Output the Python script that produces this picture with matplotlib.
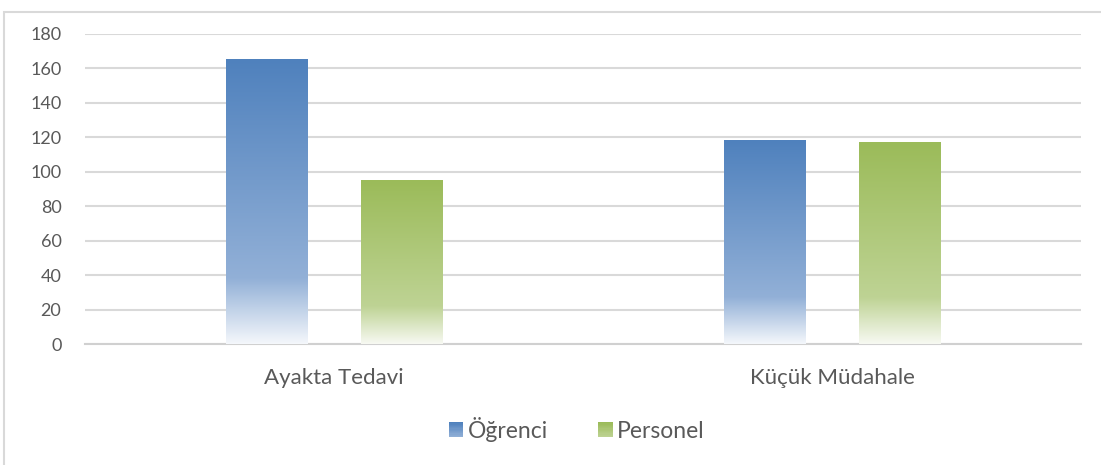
import matplotlib
matplotlib.use('Agg')
import matplotlib.pyplot as plt
import numpy as np
from matplotlib.colors import LinearSegmentedColormap
from matplotlib.legend_handler import HandlerBase
from matplotlib.patches import Rectangle

categories = ['Ayakta Tedavi', 'Küçük Müdahale']
series_names = ['Öğrenci', 'Personel']
ogrenci = [165, 118]
personel = [95, 117]
yticks = [0, 20, 40, 60, 80, 100, 120, 140, 160, 180]

text_color = '#595959'
grid_color = '#D9D9D9'

# top colour -> lighter mid -> almost white at the bottom (Excel style gradient)
blue_cmap = LinearSegmentedColormap.from_list(
    'blue', [(0.0, '#F4F7FB'), (0.23, '#92B0D7'), (1.0, '#4F81BD')])
green_cmap = LinearSegmentedColormap.from_list(
    'green', [(0.0, '#F7F9F2'), (0.23, '#BED394'), (1.0, '#9BBB59')])

plt.rcParams['font.family'] = ['Lato', 'DejaVu Sans']

fig = plt.figure(figsize=(11.01, 4.65), dpi=100)
ax = fig.add_axes([0.0772, 0.2602, 0.9046, 0.6667])

x = np.arange(len(categories))
width = 0.163
offset = 0.1355
gradient = np.linspace(0, 1, 256).reshape(-1, 1)

for vals, cmap, sign in [(ogrenci, blue_cmap, -1), (personel, green_cmap, 1)]:
    bars = ax.bar(x + sign * offset, vals, width, color='none', zorder=3)
    for b in bars:
        x0, y0 = b.get_x(), b.get_y()
        ax.imshow(gradient, cmap=cmap, origin='lower', aspect='auto',
                  extent=(x0, x0 + b.get_width(), y0, y0 + b.get_height()), zorder=3)

ax.set_xlim(-0.5, 1.5)
ax.set_ylim(0, 180)
ax.set_yticks(yticks)
ax.set_xticks(x)
ax.set_xticklabels(categories)
ax.tick_params(axis='both', length=0, labelsize=13, colors=text_color)
ax.tick_params(axis='x', labelsize=16, pad=17)
ax.tick_params(axis='y', pad=17)
for s in ['top', 'right', 'left']:
    ax.spines[s].set_visible(False)
ax.spines['bottom'].set_color('#D0D0D0')
ax.spines['bottom'].set_linewidth(1.5)
ax.yaxis.grid(True, color=grid_color, linewidth=1.5, zorder=0)
ax.set_axisbelow(True)


class GradientHandler(HandlerBase):
    def __init__(self, cmap):
        super().__init__()
        self.cmap = cmap

    def create_artists(self, legend, orig_handle, xdescent, ydescent, width, height, fontsize, trans):
        n = 12
        arts = []
        for i in range(n):
            arts.append(Rectangle((-xdescent, -ydescent + height * i / n), width, height / n + 0.3,
                                  facecolor=self.cmap(0.25 + 0.75 * i / (n - 1)), edgecolor='none',
                                  transform=trans))
        return arts


h1 = Rectangle((0, 0), 1, 1)
h2 = Rectangle((0, 0), 1, 1)
fig.legend([h1, h2], series_names, loc='center', bbox_to_anchor=(0.524, 0.077), ncol=2,
           frameon=False, fontsize=16.5, labelcolor=text_color, handlelength=0.62,
           handleheight=0.62, handletextpad=0.2, columnspacing=2.2,
           handler_map={h1: GradientHandler(blue_cmap), h2: GradientHandler(green_cmap)})

# outer chart frame
fig.add_artist(Rectangle((4 / 1101, -0.1), 1.2, 1 - 12 / 465 + 0.1, transform=fig.transFigure,
                         facecolor='none', edgecolor='#D9D9D9', linewidth=1.5))

fig.savefig('out.png', dpi=100)
